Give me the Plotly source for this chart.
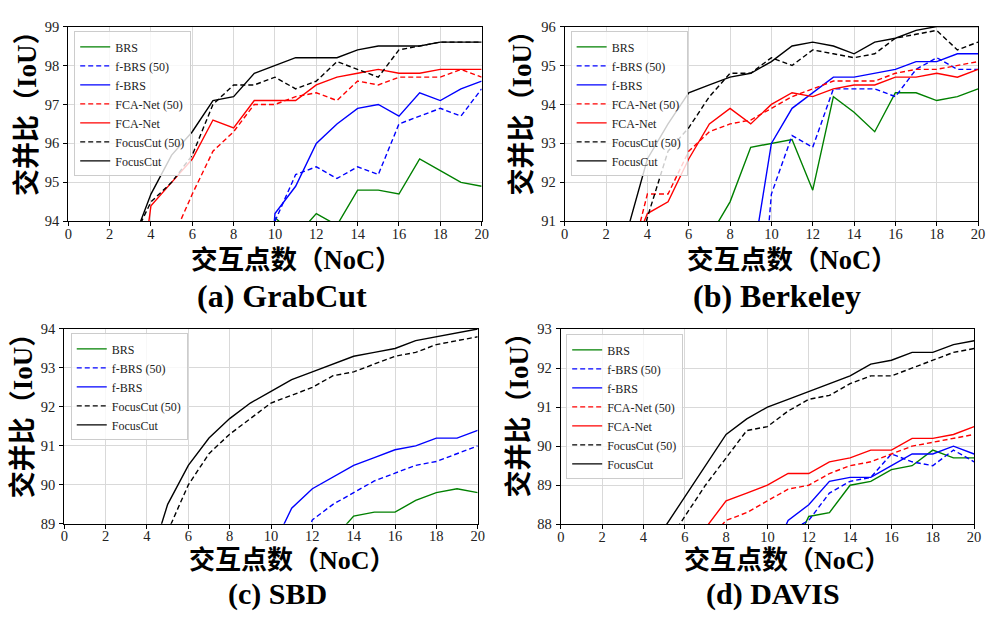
import plotly.graph_objects as go

W, H = 991, 619

NOC = list(range(1, 21))
N = None

SERIES_NAMES = ["BRS", "f-BRS (50)", "f-BRS", "FCA-Net (50)", "FCA-Net", "FocusCut (50)", "FocusCut"]

# ---- (a) GrabCut ----
grab_brs = [N]*9 + [94.1, 93.6, 94.2, 93.9, 94.8, 94.8, 94.7, 95.6, 95.3, 95.0, 94.9]
grab_fbrs50 = [N]*9 + [94.0, 95.2, 95.4, 95.1, 95.4, 95.2, 96.5, 96.7, 96.9, 96.7, 97.4]
grab_fbrs = [N]*8 + [87.5, 94.2, 94.9, 96.0, 96.5, 96.9, 97.0, 96.7, 97.3, 97.1, 97.4, 97.6]
grab_fca50 = [N]*4 + [93.5, 94.7, 95.8, 96.3, 97.0, 97.0, 97.2, 97.3, 97.1, 97.6, 97.5, 97.7, 97.7, 97.7, 97.9, 97.7]
grab_fca = [N]*2 + [90.4, 94.4, 95.0, 95.6, 96.6, 96.4, 97.1, 97.1, 97.1, 97.5, 97.7, 97.8, 97.9, 97.8, 97.8, 97.9, 97.9, 97.9]
grab_fc50 = [N]*2 + [93.4, 94.5, 95.0, 95.7, 97.0, 97.5, 97.5, 97.7, 97.4, 97.6, 98.1, 97.9, 97.7, 98.4, 98.5, 98.6, 98.6, 98.6]
grab_fc = [N]*2 + [93.3, 94.7, 95.7, 96.3, 97.1, 97.2, 97.8, 98.0, 98.2, 98.2, 98.2, 98.4, 98.5, 98.5, 98.5, 98.6, 98.6, 98.6]

# ---- (b) Berkeley ----
berk_brs = [N]*6 + [90.6, 91.5, 92.9, 93.0, 93.1, 91.8, 94.2, 93.8, 93.3, 94.3, 94.3, 94.1, 94.2, 94.4]
berk_fbrs50 = [N]*8 + [85.3, 91.7, 93.2, 92.9, 94.4, 94.4, 94.4, 94.2, 94.9, 95.2, 94.9, 94.9]
berk_fbrs = [N]*8 + [89.7, 93.0, 93.9, 94.3, 94.7, 94.7, 94.8, 94.9, 95.1, 95.1, 95.3, 95.3]
berk_fca50 = [N]*2 + [89.6, 91.7, 91.7, 92.8, 93.3, 93.5, 93.6, 93.9, 94.2, 94.4, 94.6, 94.6, 94.6, 94.8, 94.9, 94.9, 95.0, 95.1]
berk_fca = [N]*2 + [89.9, 91.2, 91.5, 92.6, 93.5, 93.9, 93.5, 94.0, 94.3, 94.2, 94.4, 94.5, 94.5, 94.7, 94.7, 94.8, 94.7, 94.9]
berk_fc50 = [N]*2 + [89.0, 91.1, 92.8, 93.4, 94.2, 94.8, 94.8, 95.2, 95.0, 95.4, 95.3, 95.2, 95.3, 95.7, 95.8, 95.9, 95.4, 95.6]
berk_fc = [N]*2 + [90.7, 92.6, 93.5, 94.3, 94.5, 94.7, 94.8, 95.1, 95.5, 95.6, 95.5, 95.3, 95.6, 95.7, 95.9, 96.0, 96.0, 96.0]

# ---- (c) SBD ----
sbd_brs = [N]*12 + [88.6, 89.2, 89.3, 89.3, 89.6, 89.8, 89.9, 89.8]
sbd_fbrs50 = [N]*10 + [87.7, 89.1, 89.5, 89.8, 90.1, 90.3, 90.5, 90.6, 90.8, 91.0]
sbd_fbrs = [N]*9 + [88.3, 89.4, 89.9, 90.2, 90.5, 90.7, 90.9, 91.0, 91.2, 91.2, 91.4]
sbd_fc50 = [N]*4 + [88.8, 90.0, 90.8, 91.3, 91.7, 92.1, 92.3, 92.5, 92.8, 92.9, 93.1, 93.3, 93.4, 93.6, 93.7, 93.8]
sbd_fc = [N]*3 + [87.8, 89.5, 90.5, 91.2, 91.7, 92.1, 92.4, 92.7, 92.9, 93.1, 93.3, 93.4, 93.5, 93.7, 93.8, 93.9, 94.0]

# ---- (d) DAVIS ----
dav_brs = [N]*10 + [87.1, 88.2, 88.3, 89.0, 89.1, 89.4, 89.5, 89.9, 89.7, 89.7]
dav_fbrs50 = [N]*10 + [87.8, 88.1, 88.8, 89.1, 89.2, 89.8, 89.6, 89.5, 89.9, 89.6]
dav_fbrs = [N]*9 + [86.9, 88.1, 88.5, 89.1, 89.2, 89.2, 89.5, 89.8, 89.8, 90.0, 89.8]
dav_fca50 = [N]*6 + [87.5, 88.1, 88.3, 88.6, 88.9, 89.0, 89.3, 89.5, 89.6, 89.8, 90.0, 90.1, 90.2, 90.3]
dav_fca = [N]*6 + [87.9, 88.6, 88.8, 89.0, 89.3, 89.3, 89.6, 89.7, 89.9, 89.9, 90.2, 90.2, 90.3, 90.5]
dav_fc50 = [N]*4 + [87.4, 88.2, 89.0, 89.7, 90.4, 90.5, 90.9, 91.2, 91.3, 91.6, 91.8, 91.8, 92.0, 92.2, 92.4, 92.5]
dav_fc = [N]*4 + [87.9, 88.7, 89.5, 90.3, 90.7, 91.0, 91.2, 91.4, 91.6, 91.8, 92.1, 92.2, 92.4, 92.4, 92.6, 92.7]

Y_RANGES = [(94, 99), (91, 96), (89, 94), (88, 93)]
CAPTIONS = ["(a) GrabCut", "(b) Berkeley", "(c) SBD", "(d) DAVIS"]
X_TITLE = "交互点数（NoC）"
Y_TITLE = "交并比（IoU）"

STYLE = {
    "BRS": ("#008000", "solid"),
    "f-BRS (50)": ("#0000ff", "5px,3px"),
    "f-BRS": ("#0000ff", "solid"),
    "FCA-Net (50)": ("#ff0000", "5px,3px"),
    "FCA-Net": ("#ff0000", "solid"),
    "FocusCut (50)": ("#000000", "5px,3px"),
    "FocusCut": ("#000000", "solid"),
}

panels = [
    {"BRS": grab_brs, "f-BRS (50)": grab_fbrs50, "f-BRS": grab_fbrs, "FCA-Net (50)": grab_fca50,
     "FCA-Net": grab_fca, "FocusCut (50)": grab_fc50, "FocusCut": grab_fc},
    {"BRS": berk_brs, "f-BRS (50)": berk_fbrs50, "f-BRS": berk_fbrs, "FCA-Net (50)": berk_fca50,
     "FCA-Net": berk_fca, "FocusCut (50)": berk_fc50, "FocusCut": berk_fc},
    {"BRS": sbd_brs, "f-BRS (50)": sbd_fbrs50, "f-BRS": sbd_fbrs,
     "FocusCut (50)": sbd_fc50, "FocusCut": sbd_fc},
    {"BRS": dav_brs, "f-BRS (50)": dav_fbrs50, "f-BRS": dav_fbrs, "FCA-Net (50)": dav_fca50,
     "FCA-Net": dav_fca, "FocusCut (50)": dav_fc50, "FocusCut": dav_fc},
]

# plot-area boxes in pixels: (left, right, top, bottom)
BOXES = [(65, 483, 19, 219), (567, 985, 19, 219), (61, 479, 329.5, 529.5), (563, 981, 329.5, 530)]
LEGEND_POS = [(71, 24), (573, 24), (67.5, 334), (568.5, 335)]
YLAB_POS = [(24, 101), (524, 101), (20, 411), (521, 411)]
XLAB_POS = [(296, 259), (797, 259), (292, 567.5), (792, 567.5)]
CAP_POS = [(281, 296), (782, 296), (277, 601.5), (778, 601.5)]
CAP_SIZE = [32, 32, 30, 30]
XLAB_SIZE = [26.5, 26.5, 26, 26]

SERIF = "Liberation Serif, Times New Roman, Noto Sans CJK SC, serif"
LABEL_FONT = "Liberation Serif, Noto Sans CJK SC, serif"

def px(x):
    return x / W

def py(y):
    return 1 - y / H

fig = go.Figure()
layout = {}
annotations = []

for i, data in enumerate(panels):
    k = "" if i == 0 else str(i + 1)
    legend_id = "legend" + k
    for name in SERIES_NAMES:
        if name not in data:
            continue
        color, dash = STYLE[name]
        fig.add_trace(go.Scatter(
            x=NOC, y=data[name], name=name, mode="lines",
            line=dict(color=color, width=1.4, dash=dash),
            xaxis="x" + k, yaxis="y" + k, legend=legend_id,
            connectgaps=False, showlegend=True,
        ))
    l, r, t, b = BOXES[i]
    axis_common = dict(
        showline=True, mirror=True, linecolor="#000000", linewidth=1.2,
        ticks="outside", ticklen=4, tickwidth=1, tickcolor="#000000",
        showgrid=True, gridcolor="#d9d9d9", gridwidth=1, zeroline=False,
        tickfont=dict(family=SERIF, size=14.5, color="#222222"),
    )
    layout["xaxis" + k] = dict(axis_common, domain=[px(l), px(r)], range=[0, 20],
                               tick0=0, dtick=2, anchor="y" + k, ticklabelstandoff=-5)
    y0, y1 = Y_RANGES[i]
    layout["yaxis" + k] = dict(axis_common, domain=[py(b), py(t)], range=[y0, y1],
                               tick0=y0, dtick=1, anchor="x" + k, ticklabelstandoff=1)
    lx, ly = LEGEND_POS[i]
    layout[legend_id] = dict(
        x=px(lx), y=py(ly), xanchor="left", yanchor="top",
        bgcolor="rgba(255,255,255,0.8)", bordercolor="#cccccc", borderwidth=1,
        font=dict(family=SERIF, size=12, color="#222222"),
        tracegroupgap=0,
    )
    annotations.append(dict(
        x=px(YLAB_POS[i][0]), y=py(YLAB_POS[i][1]), xref="paper", yref="paper",
        text="<b>" + Y_TITLE + "</b>", textangle=-90, showarrow=False,
        xanchor="center", yanchor="middle",
        font=dict(family=LABEL_FONT, size=27, color="#000000"),
    ))
    annotations.append(dict(
        x=px(XLAB_POS[i][0]), y=py(XLAB_POS[i][1]), xref="paper", yref="paper",
        text="<b>" + X_TITLE + "</b>", showarrow=False,
        xanchor="center", yanchor="middle",
        font=dict(family=LABEL_FONT, size=XLAB_SIZE[i], color="#000000"),
    ))
    annotations.append(dict(
        x=px(CAP_POS[i][0]), y=py(CAP_POS[i][1]), xref="paper", yref="paper",
        text="<b>" + CAPTIONS[i] + "</b>", showarrow=False,
        xanchor="center", yanchor="middle",
        font=dict(family=SERIF, size=CAP_SIZE[i], color="#000000"),
    ))

fig.update_layout(
    width=W, height=H,
    margin=dict(l=0, r=0, t=0, b=0),
    paper_bgcolor="#ffffff", plot_bgcolor="#ffffff",
    annotations=annotations,
    **layout,
)

fig.write_html("out.html", config={"displayModeBar": False},
               post_script="document.body.style.margin='0px';")
